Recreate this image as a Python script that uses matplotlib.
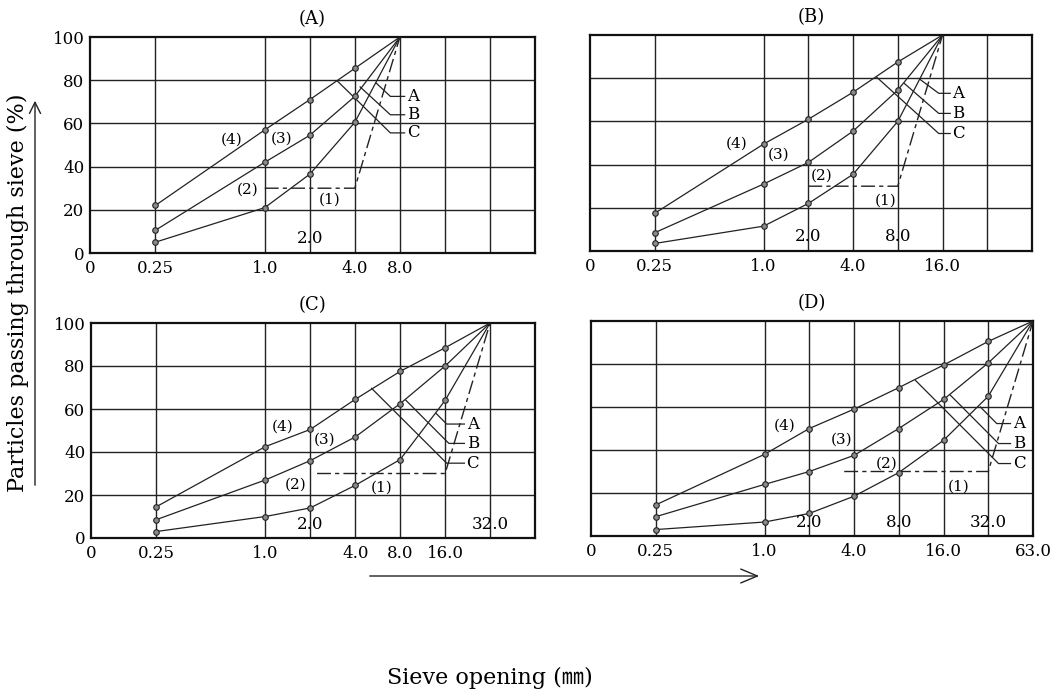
import numpy as np
import matplotlib
matplotlib.use('Agg')
import matplotlib.pyplot as plt

plt.rcParams['font.family'] = ['DejaVu Serif', 'Liberation Serif']

# ---- x scale of the grading chart (sieve opening, mm) ----
scale_sizes = [0, 0.25, 1, 2, 4, 8, 16, 32, 63]
scale_pos = [0, 1.45, 3.88, 4.88, 5.88, 6.88, 7.88, 8.88, 9.88]

# ---- Panel (A): max 8 mm ----
sieves_A = [0.25, 1, 2, 4, 8]
A_lineA = [5, 21, 36.5, 60.5, 100]
A_lineB = [10.5, 42, 54.5, 72.5, 100]
A_lineC = [22, 57, 71, 85.5, 100]
A_U_x = [1, 4, 8]
A_U_y = [30, 30, 100]

# ---- Panel (B): max 16 mm ----
sieves_B = [0.25, 1, 2, 4, 8, 16]
B_lineA = [3.5, 11.5, 22, 35.5, 60, 100]
B_lineB = [8.5, 31, 41, 55.5, 74.5, 100]
B_lineC = [17.5, 49.5, 61, 73.5, 87.5, 100]
B_U_x = [2, 8, 16]
B_U_y = [30, 30, 100]

# ---- Panel (C): max 32 mm ----
sieves_C = [0.25, 1, 2, 4, 8, 16, 32]
C_lineA = [3, 10, 14, 24.5, 36.5, 64, 100]
C_lineB = [8.5, 27, 36, 47, 62.5, 80, 100]
C_lineC = [14.5, 42.5, 50.5, 64.5, 77.5, 88.5, 100]
C_U_x = [2.3, 16, 32]
C_U_y = [30, 30, 100]

# ---- Panel (D): max 63 mm ----
sieves_D = [0.25, 1, 2, 4, 8, 16, 32, 63]
D_lineA = [3, 6.5, 10.5, 18.5, 29.5, 44.5, 65, 100]
D_lineB = [9, 24, 30, 37.5, 50, 63.5, 80.5, 100]
D_lineC = [14.5, 38, 50, 59, 69, 79.5, 90.5, 100]
D_U_x = [3.56, 32, 63]
D_U_y = [30, 30, 100]

grid_sizes = [0.25, 1, 2, 4, 8, 16, 32]
y_ticks = [0, 20, 40, 60, 80, 100]

titles = ['(A)', '(B)', '(C)', '(D)']
outer_ticks = {
    '(A)': ([0, 0.25, 1, 4, 8], ['0', '0.25', '1.0', '4.0', '8.0']),
    '(B)': ([0, 0.25, 1, 4, 16], ['0', '0.25', '1.0', '4.0', '16.0']),
    '(C)': ([0, 0.25, 1, 4, 8, 16], ['0', '0.25', '1.0', '4.0', '8.0', '16.0']),
    '(D)': ([0, 0.25, 1, 4, 16, 63], ['0', '0.25', '1.0', '4.0', '16.0', '63.0']),
}
inner_ticks = {
    '(A)': ([2], ['2.0']),
    '(B)': ([2, 8], ['2.0', '8.0']),
    '(C)': ([2, 32], ['2.0', '32.0']),
    '(D)': ([2, 8, 32], ['2.0', '8.0', '32.0']),
}
region_labels = ['(1)', '(2)', '(3)', '(4)']
curve_names = ['A', 'B', 'C']

panels = {
    '(A)': (sieves_A, A_lineA, A_lineB, A_lineC, A_U_x, A_U_y),
    '(B)': (sieves_B, B_lineA, B_lineB, B_lineC, B_U_x, B_U_y),
    '(C)': (sieves_C, C_lineA, C_lineB, C_lineC, C_U_x, C_U_y),
    '(D)': (sieves_D, D_lineA, D_lineB, D_lineC, D_U_x, D_U_y),
}

# layout / annotation placement (axes fractions)
axes_rect = {
    '(A)': [90 / 1061, 1 - 253 / 691, 445 / 1061, 216 / 691],
    '(B)': [590 / 1061, 1 - 251 / 691, 442 / 1061, 216 / 691],
    '(C)': [91 / 1061, 1 - 538 / 691, 444 / 1061, 215 / 691],
    '(D)': [591 / 1061, 1 - 536 / 691, 442 / 1061, 215 / 691],
}
region_pos = {
    '(A)': [(0.539, 0.247), (0.354, 0.293), (0.430, 0.53), (0.318, 0.525)],
    '(B)': [(0.668, 0.235), (0.525, 0.351), (0.426, 0.448), (0.332, 0.498)],
    '(C)': [(0.655, 0.235), (0.461, 0.247), (0.527, 0.456), (0.431, 0.518)],
    '(D)': [(0.832, 0.229), (0.669, 0.337), (0.568, 0.446), (0.438, 0.511)],
}
# leader lines: (start x, start y, end x, end y) for A, B, C ; stub end x ; letter x
leaders = {
    '(A)': ([(0.643, 0.787, 0.675, 0.725), (0.607, 0.769, 0.675, 0.640), (0.555, 0.798, 0.675, 0.556)], 0.707, 0.712),
    '(B)': ([(0.747, 0.794, 0.789, 0.730), (0.711, 0.776, 0.789, 0.637), (0.649, 0.804, 0.789, 0.544)], 0.815, 0.820),
    '(C)': ([(0.777, 0.580, 0.801, 0.530), (0.709, 0.641, 0.806, 0.440), (0.632, 0.696, 0.801, 0.348)], 0.841, 0.846),
    '(D)': ([(0.881, 0.600, 0.918, 0.523), (0.813, 0.655, 0.922, 0.430), (0.734, 0.724, 0.922, 0.337)], 0.949, 0.954),
}

fwd = lambda v: np.interp(v, scale_sizes, scale_pos)
inv = lambda p: np.interp(p, scale_pos, scale_sizes)

fig = plt.figure(figsize=(10.61, 6.91), dpi=100)

for name in titles:
    sieves, la, lb, lc, ux, uy = panels[name]
    ax = fig.add_axes(axes_rect[name])
    ax.set_xscale('function', functions=(fwd, inv))
    ax.set_xlim(0, 63)
    ax.set_ylim(0, 100)
    for g in grid_sizes:
        ax.axvline(g, color='#222222', lw=1.0, zorder=1)
    for yv in y_ticks[1:-1]:
        ax.axhline(yv, color='#222222', lw=1.0, zorder=1)
    for ys in (la, lb, lc):
        ax.plot(sieves, ys, color='#222222', lw=0.9, zorder=3)
        ax.plot(sieves[:-1], ys[:-1], ls='none', marker='o', ms=4.0,
                mfc='#8a8a8a', mec='#222222', mew=0.8, zorder=4)
    ax.plot(ux, uy, color='#222222', lw=1.0, ls=(0, (10, 3, 3, 3)), zorder=3)

    for lab, (px, py) in zip(region_labels, region_pos[name]):
        ax.text(px, py, lab, transform=ax.transAxes, ha='center', va='center',
                fontsize=11, zorder=5)
    segs, stub_x, letter_x = leaders[name]
    for cname, (x0, y0, x1, y1) in zip(curve_names, segs):
        ax.plot([x0, x1, stub_x], [y0, y1, y1], transform=ax.transAxes,
                color='#222222', lw=0.9, zorder=3)
        ax.text(letter_x, y1, cname, transform=ax.transAxes, ha='left',
                va='center', fontsize=12, zorder=5)

    ix, il = inner_ticks[name]
    for xv, tl in zip(ix, il):
        ax.text(xv, 6.5, tl, ha='center', va='center', fontsize=12, zorder=5)

    tx, tl = outer_ticks[name]
    ax.set_xticks(tx)
    ax.set_xticklabels(tl, fontsize=12)
    ax.xaxis.set_minor_locator(matplotlib.ticker.NullLocator())
    if name in ('(A)', '(C)'):
        ax.set_yticks(y_ticks)
        ax.set_yticklabels([str(v) for v in y_ticks], fontsize=12)
    else:
        ax.set_yticks([])
    ax.tick_params(axis='x', length=0, pad=5)
    ax.tick_params(axis='y', length=0, pad=4)
    for sp in ax.spines.values():
        sp.set_linewidth(1.6)
        sp.set_color('#111111')
    ax.set_title(name, fontsize=13, pad=9.5)

# y axis label with arrow
fig.text(18 / 1061, 1 - 293 / 691, 'Particles passing through sieve (%)',
         rotation=90, ha='center', va='center', fontsize=16)
fig.add_artist(matplotlib.patches.FancyArrowPatch(
    (35 / 1061, 1 - 488 / 691), (35 / 1061, 1 - 98 / 691),
    transform=fig.transFigure, arrowstyle='->,head_length=8,head_width=4',
    color='#222222', lw=1.0, mutation_scale=1))
# x axis arrow and label
fig.add_artist(matplotlib.patches.FancyArrowPatch(
    (367 / 1061, 1 - 576 / 691), (762 / 1061, 1 - 576 / 691),
    transform=fig.transFigure, arrowstyle='->,head_length=12,head_width=5',
    color='#222222', lw=1.0, mutation_scale=1))
fig.text(490 / 1061, 1 - 678 / 691, 'Sieve opening (㎜)', ha='center', va='center',
         fontsize=16, family=['DejaVu Serif', 'Noto Sans CJK JP'])

fig.savefig('out.png', dpi=100)
